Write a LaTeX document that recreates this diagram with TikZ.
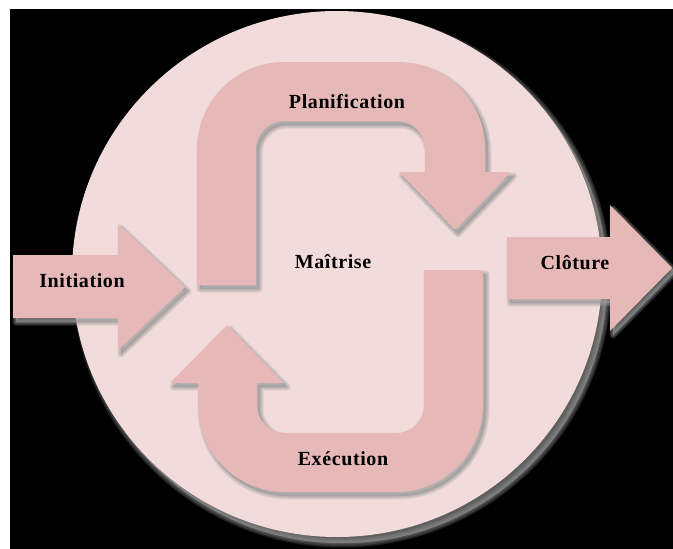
\documentclass[tikz,border=0pt]{standalone}
\usepackage{fontspec}
\setmainfont{Liberation Serif}
\newfontfamily\labelfont[LetterSpace=3]{Liberation Serif}

\definecolor{discfill}{HTML}{F2DCDB}
\definecolor{arrowfill}{HTML}{E6B9B8}
\definecolor{shadowgray}{HTML}{9A9A9A}

\begin{document}
\begin{tikzpicture}[x=1pt,y=-1pt,
  label text/.style={font=\labelfont\fontsize{20}{24}\selectfont\bfseries, text=black, inner sep=0pt},
  shape fill/.style={fill=arrowfill, draw=none},
  % one layer of a soft shadow: fill plus a wide, faint outline
  shadow layer/.style={fill=shadowgray, draw=shadowgray, line width=#1pt, line join=round,
    fill opacity=0.22, draw opacity=0.22},
  % outlines of the five shapes
  disc path/.style={insert path={(337,274) ellipse[x radius=265, y radius=263]}},
  plan path/.style={insert path={
    (197,285) -- (197,149) arc[start angle=180, end angle=270, radius=87]
    -- (398,62) arc[start angle=270, end angle=360, radius=87]
    -- (485,172) -- (511,172) -- (455,230) -- (399,172) -- (425,172) -- (425,149)
    arc[start angle=0, end angle=-90, radius=28]
    -- (284,121) arc[start angle=270, end angle=180, radius=28]
    -- (256,285) -- cycle}},
  exec path/.style={insert path={
    (483,270) -- (483,405) arc[start angle=0, end angle=90, radius=87]
    -- (285,492) arc[start angle=90, end angle=180, radius=87]
    -- (198,383) -- (170,383) -- (227,325) -- (284,383) -- (257,383) -- (257,405)
    arc[start angle=180, end angle=90, radius=28]
    -- (396,433) arc[start angle=90, end angle=0, radius=28]
    -- (424,270) -- cycle}},
  init path/.style={insert path={
    (13,255) -- (118,255) -- (118,224) -- (185,287) -- (118,350) -- (118,318) -- (13,318) -- cycle}},
  close path/.style={insert path={
    (507,237) -- (610,237) -- (610,205) -- (672,268) -- (610,331) -- (610,299) -- (507,299) -- cycle}},
]
\useasboundingbox (0,0) rectangle (673,549);
\fill[white] (0,0) rectangle (673,549);
\fill[black] (10,9) rectangle (673,549);

% soft shadow of the disc
\foreach \w in {9,6,3,1}
  \path[shadow layer=\w, shift={(5,6)}, disc path];
\path[fill=discfill, disc path];

% soft shadows of the arrows
\foreach \w in {7,5,3,1}{
  \path[shadow layer=\w, shift={(3,4)}, plan path];
  \path[shadow layer=\w, shift={(3,4)}, exec path];
  \path[shadow layer=\w, shift={(3,4)}, init path];
  \path[shadow layer=\w, shift={(3,4)}, close path];
}

% arrows
\path[shape fill, plan path];
\path[shape fill, exec path];
\path[shape fill, init path];
\path[shape fill, close path];

% labels
\node[label text] (plan)  at (347,102) {Planification};
\node[label text] (ctrl)  at (333,262) {Maîtrise};
\node[label text] (exec)  at (343,459) {Exécution};
\node[label text] (init)  at (82,281)  {Initiation};
\node[label text] (close) at (575,263) {Clôture};
\end{tikzpicture}
\end{document}
